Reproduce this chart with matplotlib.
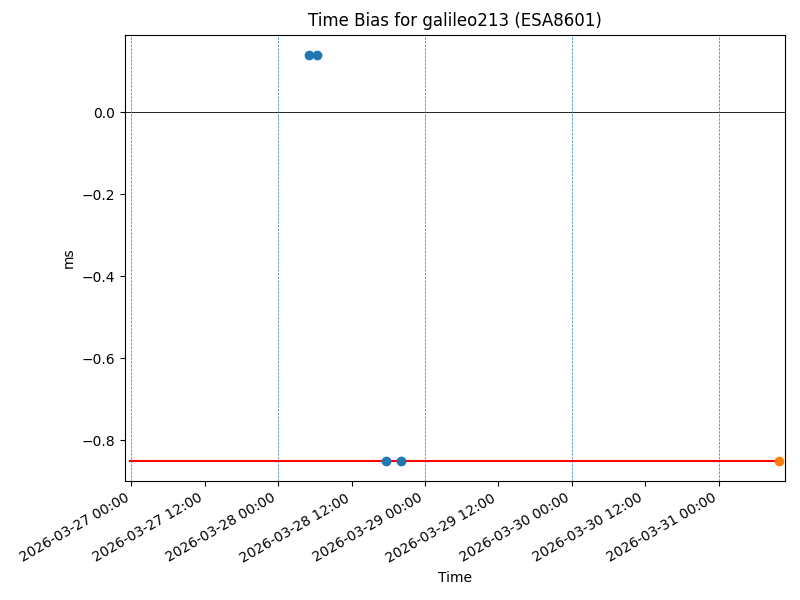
import matplotlib
matplotlib.use("Agg")
import matplotlib.pyplot as plt
import matplotlib.dates as mdates
import pandas as pd

# Data
blue_times = ["2026-03-28 05:00", "2026-03-28 06:20", "2026-03-28 17:40", "2026-03-28 20:05"]
blue_values = [0.14, 0.14, -0.85, -0.85]
orange_times = ["2026-03-31 09:56"]
orange_values = [-0.85]
ref_times = ["2026-03-26 23:50", "2026-03-31 09:56"]
ref_values = [-0.85, -0.85]
day_lines = ["2026-03-27", "2026-03-28", "2026-03-29", "2026-03-30", "2026-03-31"]
x_limits = ["2026-03-26 22:55", "2026-03-31 10:50"]

fig = plt.figure(figsize=(8, 6), dpi=100)
ax = fig.add_axes([0.156, 0.198, 0.825, 0.744])

ax.plot(pd.to_datetime(ref_times), ref_values, color="red", linewidth=1.5, zorder=2)
ax.scatter(pd.to_datetime(blue_times), blue_values, color="C0", s=36, zorder=3)
ax.scatter(pd.to_datetime(orange_times), orange_values, color="C1", s=36, zorder=3)
ax.axhline(0, color="black", linewidth=0.6, zorder=1)
for d in pd.to_datetime(day_lines):
    ax.axvline(d, color="C0", linestyle="--", linewidth=0.5, zorder=1)

ax.set_xlim(pd.to_datetime(x_limits))
ax.xaxis.set_major_locator(mdates.HourLocator(byhour=[0, 12]))
ax.xaxis.set_major_formatter(mdates.DateFormatter("%Y-%m-%d %H:%M"))
for lbl in ax.get_xticklabels():
    lbl.set_rotation(30)
    lbl.set_ha("right")

ax.set_title("Time Bias for galileo213 (ESA8601)")
ax.set_xlabel("Time")
ax.set_ylabel("ms")

fig.savefig("out.png", dpi=100)
